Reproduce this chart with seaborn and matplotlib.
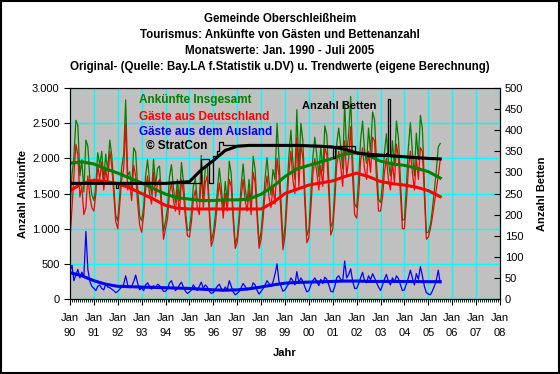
import matplotlib
matplotlib.use("Agg")
import matplotlib.pyplot as plt
import matplotlib.dates as mdates
from matplotlib.ticker import FuncFormatter, MultipleLocator
from matplotlib.patches import Rectangle
import pandas as pd
import seaborn as sns

# Ankuenfte aus Deutschland, Monatswerte je Jahr (1990 .. Juli 2005)
deutschland = [
    [860, 1300, 1750, 2200, 2050, 1450, 1600, 1200, 1300, 1750, 1450, 1300],
    [1250, 1500, 1900, 1700, 1950, 1550, 1850, 1650, 2100, 1900, 1500, 1100],
    [1000, 1350, 1700, 1850, 2500, 1550, 1650, 1400, 1900, 1750, 1350, 1050],
    [950, 1200, 1550, 1750, 1500, 1350, 1800, 1450, 1650, 1700, 1250, 850],
    [1000, 1150, 1500, 1650, 1400, 1250, 1550, 1200, 1700, 1500, 1150, 900],
    [880, 1100, 1400, 1550, 1300, 1200, 1800, 1300, 1650, 1750, 1200, 750],
    [850, 1050, 1350, 1650, 1450, 1150, 1500, 1250, 1700, 1600, 1100, 720],
    [800, 1100, 1450, 1700, 1400, 1250, 1550, 1200, 1800, 1650, 1150, 720],
    [850, 1150, 1500, 1750, 1450, 1300, 1600, 1350, 2000, 1750, 1200, 700],
    [900, 1350, 1800, 2100, 1700, 1500, 2300, 1600, 2200, 2000, 1350, 800],
    [870, 1300, 1750, 2000, 1800, 1550, 1900, 1600, 2150, 2050, 1500, 910],
    [1000, 1400, 1900, 2100, 1900, 1600, 2250, 1750, 2000, 2450, 1700, 1200],
    [1150, 1500, 1950, 2150, 1850, 1700, 2100, 1800, 2300, 2250, 1700, 1250],
    [1250, 1450, 1800, 2000, 1700, 1550, 1950, 1650, 2200, 2000, 1500, 1000],
    [1000, 1400, 1850, 2100, 1800, 1550, 2000, 1700, 2150, 2100, 1450, 850],
    [880, 1000, 1150, 1350, 1550, 1750, 1980],
]

# Ankuenfte aus dem Ausland
ausland = [
    [390, 480, 260, 340, 420, 300, 380, 320, 960, 420, 250, 180],
    [150, 120, 180, 200, 150, 130, 210, 170, 160, 140, 120, 90],
    [110, 140, 170, 210, 330, 200, 160, 180, 250, 340, 220, 130],
    [160, 120, 200, 230, 180, 140, 190, 160, 210, 190, 150, 110],
    [110, 150, 230, 260, 180, 120, 150, 200, 240, 170, 110, 80],
    [100, 130, 200, 160, 120, 180, 240, 150, 200, 170, 110, 80],
    [90, 140, 180, 210, 150, 110, 170, 130, 260, 180, 100, 60],
    [80, 110, 160, 220, 180, 130, 150, 140, 230, 200, 120, 70],
    [110, 150, 200, 260, 220, 180, 240, 350, 500, 250, 180, 110],
    [130, 180, 220, 300, 260, 200, 390, 230, 300, 250, 170, 100],
    [120, 200, 260, 300, 250, 190, 280, 220, 310, 280, 200, 110],
    [100, 180, 300, 330, 280, 250, 540, 300, 350, 430, 250, 150],
    [150, 220, 300, 380, 260, 230, 330, 270, 360, 300, 230, 170],
    [120, 200, 280, 350, 250, 200, 300, 240, 330, 290, 200, 120],
    [130, 220, 300, 410, 300, 200, 360, 280, 460, 330, 180, 90],
    [70, 60, 110, 180, 260, 410, 230],
]

# Trendwerte (eigene Berechnung), jeweils Januar und Juli
trend_gesamt = [1930, 1950, 1920, 1850, 1790, 1720, 1650, 1570, 1490, 1440,
                1420, 1400, 1400, 1410, 1410, 1420, 1490, 1600, 1740, 1850,
                1900, 1950, 2000, 2060, 2080, 2040, 1960, 1920, 1900, 1860,
                1810, 1720]
trend_deutschland = [1540, 1640, 1690, 1670, 1640, 1580, 1500, 1420, 1330, 1290,
                     1280, 1280, 1280, 1280, 1280, 1280, 1280, 1370, 1500, 1560,
                     1620, 1650, 1680, 1740, 1790, 1740, 1670, 1640, 1620, 1590,
                     1540, 1455]
trend_ausland = [375, 330, 260, 210, 180, 175, 170, 165, 160, 155,
                 150, 140, 130, 125, 130, 145, 170, 200, 225, 235,
                 240, 245, 250, 255, 255, 250, 250, 250, 248, 248,
                 246, 246]
trend_betten = [274, 274, 274, 274, 274, 274, 274, 274, 274, 276,
                278, 306, 328, 352, 362, 364, 364, 364, 364, 364,
                363, 362, 360, 355, 346, 343, 341, 339, 337, 335,
                333, 332]

# Anzahl Betten: Stichtage der Aenderungen
betten_datum = ["1990-01", "1991-12", "1992-01", "1995-07", "1995-11", "1996-01",
                "1996-03", "1996-04", "1996-06", "2000-01", "2001-01", "2001-02",
                "2001-12", "2002-06", "2003-04", "2003-05", "2003-06", "2004-01",
                "2005-01", "2005-07"]
betten_wert = [275, 262, 275, 332, 276, 340, 350, 372, 365, 362, 335, 362,
               345, 340, 345, 475, 340, 336, 333, 332]

de = sum(deutschland, [])
au = sum(ausland, [])
gesamt = [d + a for d, a in zip(de, au)]
monate = pd.date_range("1990-01-01", periods=len(de), freq="MS")
halbjahre = pd.date_range("1990-01-01", periods=len(trend_gesamt), freq="6MS")
betten_x = pd.to_datetime(betten_datum)

plt.rcParams['font.family'] = ['Liberation Sans', 'DejaVu Sans']
plt.rcParams['font.size'] = 8

fig = plt.figure(figsize=(5.6, 3.74), dpi=100)
fig.patch.set_facecolor('white')
fig.patches.append(Rectangle((0.002, 0.003), 0.996, 0.994, transform=fig.transFigure,
                             fill=False, edgecolor='black', linewidth=1.5))

ax = fig.add_axes([70 / 560, 1 - 299 / 374, 430 / 560, 211 / 374])
ax.set_facecolor('#C0C0C0')

sns.lineplot(x=monate, y=gesamt, ax=ax, color='#008000', linewidth=0.9)
sns.lineplot(x=monate, y=de, ax=ax, color='#FF0000', linewidth=0.9)
sns.lineplot(x=monate, y=au, ax=ax, color='#0000FF', linewidth=0.9)
sns.lineplot(x=halbjahre, y=trend_deutschland, ax=ax, color='#FF0000', linewidth=2.2)
sns.lineplot(x=halbjahre, y=trend_gesamt, ax=ax, color='#008000', linewidth=2.2)
sns.lineplot(x=halbjahre, y=trend_ausland, ax=ax, color='#0000FF', linewidth=2.2)

ax.set_xlim(pd.Timestamp("1990-01-01"), pd.Timestamp("2008-01-01"))
ax.set_ylim(0, 3000)
ax.xaxis.set_major_locator(mdates.YearLocator())
ax.xaxis.set_major_formatter(mdates.DateFormatter('Jan\n%y'))
ax.xaxis.set_minor_locator(mdates.MonthLocator())
ax.yaxis.set_major_locator(MultipleLocator(500))
ax.yaxis.set_major_formatter(FuncFormatter(lambda v, p: f"{v:,.0f}".replace(",", ".")))
ax.grid(which='major', color='#00FFFF', linewidth=1)
ax.set_axisbelow(True)
ax.tick_params(axis='x', which='major', direction='out', length=4, pad=6)
ax.tick_params(axis='x', which='minor', direction='out', length=2)
ax.tick_params(axis='y', which='major', direction='out', length=4)
for lbl in ax.get_xticklabels():
    lbl.set_linespacing(1.65)
ax.set_xlabel("Jahr", fontweight='bold', labelpad=7)
ax.set_ylabel("Anzahl Ankünfte", fontweight='bold', labelpad=3)
for s in ax.spines.values():
    s.set_color('black')

ax2 = ax.twinx()
sns.lineplot(x=betten_x, y=betten_wert, ax=ax2, color='black', linewidth=0.9,
             drawstyle='steps-post')
sns.lineplot(x=halbjahre, y=trend_betten, ax=ax2, color='black', linewidth=2.2)
ax2.set_xlim(pd.Timestamp("1990-01-01"), pd.Timestamp("2008-01-01"))
ax2.set_ylim(0, 500)
ax2.yaxis.set_major_locator(MultipleLocator(50))
ax2.tick_params(axis='y', direction='in', length=4)
ax2.set_ylabel("Anzahl Betten", fontweight='bold', rotation=90, labelpad=10)
ax2.grid(False)

ax.text(0.16, 0.943, "Ankünfte Insgesamt", transform=ax.transAxes, color='#008000',
        fontweight='bold', va='center', fontsize=8.5)
ax.text(0.16, 0.862, "Gäste aus Deutschland", transform=ax.transAxes, color='#FF0000',
        fontweight='bold', va='center', fontsize=8.5)
ax.text(0.16, 0.791, "Gäste aus dem Ausland", transform=ax.transAxes, color='#0000FF',
        fontweight='bold', va='center', fontsize=8.5)
ax.text(0.177, 0.725, "© StratCon", transform=ax.transAxes, color='black',
        fontweight='bold', va='center', fontsize=8.5)
ax.text(0.54, 0.915, "Anzahl Betten", transform=ax.transAxes, color='black',
        fontweight='bold', va='center')

titel = ["Gemeinde Oberschleißheim",
         "Tourismus: Ankünfte von Gästen und Bettenanzahl",
         "Monatswerte: Jan. 1990 - Juli 2005",
         "Original- (Quelle: Bay.LA f.Statistik u.DV) u. Trendwerte (eigene Berechnung)"]
for i, t in enumerate(titel):
    fig.text(0.5, 1 - (19 + 16 * i) / 374, t, ha='center', va='center',
             fontweight='bold', fontsize=8.3)

fig.savefig("out.png", dpi=100)
